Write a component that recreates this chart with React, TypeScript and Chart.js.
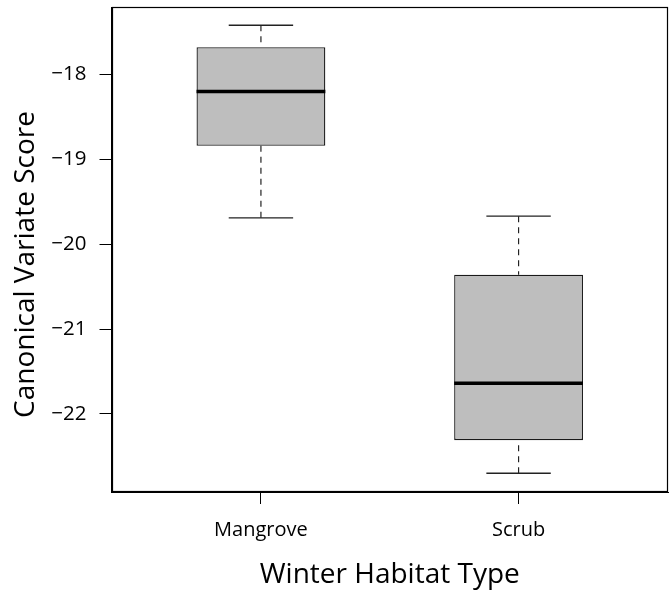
import React, { useEffect, useRef } from "react";
import { Chart, registerables } from "chart.js";

Chart.register(...registerables);

// ---- data ----
const categories = ["Mangrove", "Scrub"];
const whiskerLow = [-19.69, -22.7];
const quartile1 = [-18.84, -22.31];
const medians = [-18.2, -21.64];
const quartile3 = [-17.68, -20.36];
const whiskerHigh = [-17.42, -19.67];
const yTickValues = [-22, -21, -20, -19, -18];
const xTitle = "Winter Habitat Type";
const yTitle = "Canonical Variate Score";

const FONT = "'Open Sans', 'DejaVu Sans', sans-serif";
const INK = "#000000";

const framePlugin = {
  id: "frame",
  afterDraw(chart: any) {
    const { ctx, chartArea } = chart;
    const l = Math.round(chartArea.left) + 0.5;
    const t = Math.round(chartArea.top) + 0.5;
    const r = Math.round(chartArea.right) - 0.5;
    const b = Math.round(chartArea.bottom) - 0.5;
    ctx.save();
    ctx.strokeStyle = INK;
    ctx.lineWidth = 1.2;
    ctx.strokeRect(l, t, r - l, b - t);
    ctx.restore();
  },
};

const titlePlugin = {
  id: "axisTitles",
  afterDraw(chart: any) {
    const { ctx, chartArea } = chart;
    ctx.save();
    ctx.fillStyle = INK;
    ctx.font = `28px ${FONT}`;
    ctx.textAlign = "center";
    ctx.textBaseline = "alphabetic";
    ctx.fillText(xTitle, (chartArea.left + chartArea.right) / 2, chartArea.bottom + 91);
    ctx.translate(33.5, (chartArea.top + chartArea.bottom) / 2 + 15);
    ctx.rotate(-Math.PI / 2);
    ctx.fillText(yTitle, 0, 0);
    ctx.restore();
  },
};

function fmtMinus(v: number) {
  return v < 0 ? "\u2212" + Math.abs(v) : String(v);
}

export default function App() {
  const ref = useRef<HTMLCanvasElement>(null);

  useEffect(() => {
    if (!ref.current) return;
    const positions = categories.map((_, i) => i + 1);
    const datasets: any[] = [];

    datasets.push({
      type: "bar",
      data: positions.map((x, i) => ({ x, y: [quartile1[i], quartile3[i]] })),
      backgroundColor: "#bebebe",
      borderColor: "#1a1a1a",
      borderWidth: 1.3,
      borderSkipped: false,
      categoryPercentage: 1,
      barPercentage: 0.5,
      order: 3,
    });

    const seg = (pts: any[], opts: any) => ({
      type: "line",
      data: pts,
      pointRadius: 0,
      pointHoverRadius: 0,
      tension: 0,
      fill: false,
      ...opts,
    });

    positions.forEach((x, i) => {
      const whisk = { borderColor: "#222222", borderWidth: 1.2, borderDash: [6, 5], order: 2 };
      const cap = { borderColor: "#222222", borderWidth: 1.3, order: 2 };
      datasets.push(seg([{ x, y: whiskerHigh[i] }, { x, y: quartile3[i] }], whisk));
      datasets.push(seg([{ x, y: whiskerLow[i] }, { x, y: quartile1[i] }], whisk));
      datasets.push(seg([{ x: x - 0.125, y: whiskerHigh[i] }, { x: x + 0.125, y: whiskerHigh[i] }], cap));
      datasets.push(seg([{ x: x - 0.125, y: whiskerLow[i] }, { x: x + 0.125, y: whiskerLow[i] }], cap));
      datasets.push(
        seg([{ x: x - 0.25, y: medians[i] }, { x: x + 0.25, y: medians[i] }], {
          borderColor: INK,
          borderWidth: 3.5,
          order: 1,
        })
      );
    });

    const noPad = (s: any) => {
      s.paddingTop = 0;
      s.paddingBottom = 0;
      s.paddingLeft = 0;
      s.paddingRight = 0;
    };

    const chart = new Chart(ref.current, {
      type: "bar",
      data: { datasets },
      options: {
        animation: false,
        responsive: true,
        maintainAspectRatio: false,
        layout: { padding: { top: 7, right: 2, left: 0, bottom: 0 } },
        plugins: { legend: { display: false }, tooltip: { enabled: false } },
        events: [],
        scales: {
          x: {
            type: "linear",
            position: "bottom",
            offset: false,
            min: 0.42,
            max: 2.58,
            afterBuildTicks: (s: any) => {
              s.ticks = positions.map((v) => ({ value: v }));
            },
            afterFit: (s: any) => {
              s.height = 100;
              noPad(s);
            },
            grid: {
              display: true,
              offset: false,
              drawOnChartArea: false,
              drawTicks: true,
              tickLength: 12,
              color: INK,
              lineWidth: 1,
            },
            border: { display: true, color: INK, width: 1 },
            ticks: {
              color: INK,
              font: { family: FONT, size: 20 },
              padding: 14,
              maxRotation: 0,
              autoSkip: false,
              callback: (v: any) => categories[Math.round(Number(v)) - 1] ?? "",
            },
          },
          y: {
            type: "linear",
            position: "left",
            min: -22.921,
            max: -17.205,
            afterBuildTicks: (s: any) => {
              s.ticks = yTickValues.map((v) => ({ value: v }));
            },
            afterFit: (s: any) => {
              s.width = 111.5;
              noPad(s);
            },
            grid: {
              display: true,
              drawOnChartArea: false,
              drawTicks: true,
              tickLength: 12,
              color: INK,
              lineWidth: 1,
            },
            border: { display: true, color: INK, width: 1 },
            ticks: {
              color: INK,
              font: { family: FONT, size: 20.5 },
              padding: 13,
              autoSkip: false,
              callback: (v: any) => fmtMinus(Number(v)),
            },
          },
        },
      } as any,
      plugins: [framePlugin, titlePlugin],
    });
    return () => chart.destroy();
  }, []);

  return (
    <div style={{ position: "fixed", left: 0, top: 0, width: 670, height: 592, background: "#fff" }}>
      <canvas ref={ref} />
    </div>
  );
}
